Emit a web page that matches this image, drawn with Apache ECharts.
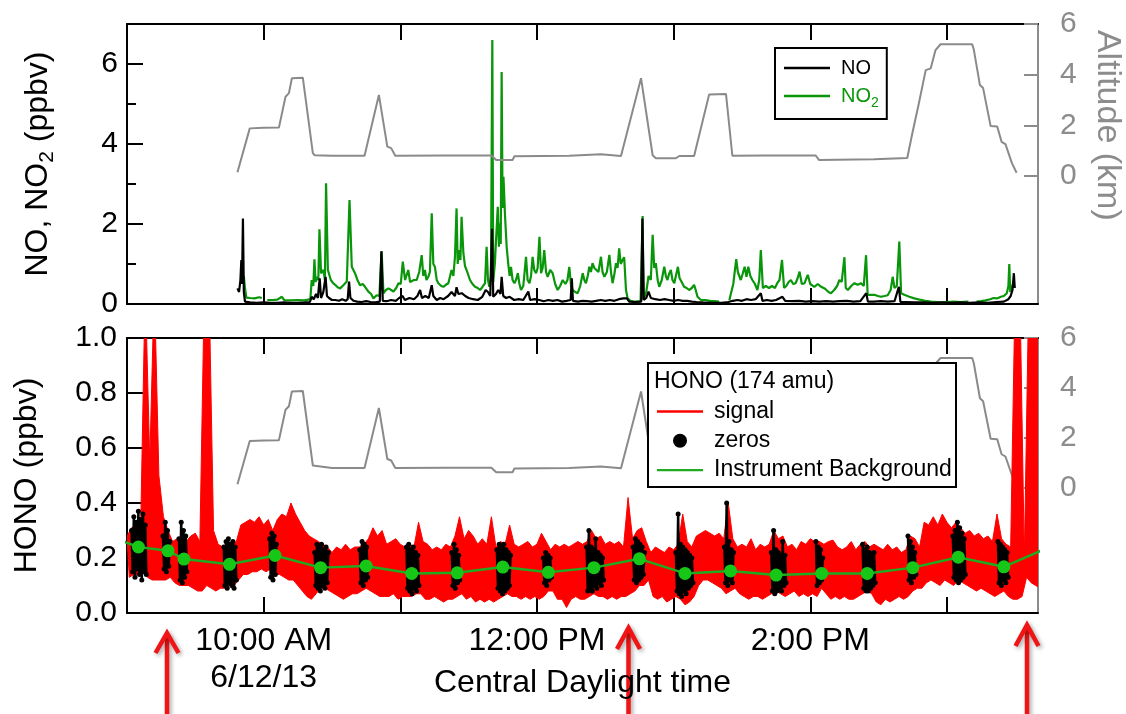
<!DOCTYPE html>
<html><head><meta charset="utf-8">
<script src="https://cdn.jsdelivr.net/npm/echarts@6.0.0/dist/echarts.min.js"></script>
<style>html,body{margin:0;padding:0;background:#fff}#c{width:1126px;height:714px}</style>
</head><body><div id="c"></div>
<script>
// ---------- data (time in minutes after midnight, CDT, 6/12/13) ----------
const X_MIN = 540, X_MAX = 940;
const hourTicks = [540, 600, 660, 720, 780, 840, 900];
const labelTimes = [600, 720, 840];
const labelTexts = ['10:00 AM\n6/12/13', '12:00 PM', '2:00 PM'];
const altTicks = [0, 2, 4, 6];

// NO2 (ppbv) [time, value]; null = gap
const no2 = [[591.3,0.70],[591.8,0.40],[592.4,0.16],[594,0.15],[596,0.14],[598,0.17],[599.2,0.15],[599.6,null],
[601.6,0.10],[604,0.10],[606,0.11],[608,0.18],[609,0.10],[612,0.09],[615,0.10],[618,0.09],[620.5,0.12],
[621.1,0.60],[621.8,0.45],[622.3,1.12],[622.8,0.55],[623.3,0.68],[624.0,0.60],[624.5,1.87],[625.2,0.77],[626.3,0.85],[626.9,0.60],[627.4,3.02],[628.2,0.85],[629.5,0.60],[630.5,0.52],[631.4,0.48],[632.5,0.42],[633.6,0.39],[635,0.47],[636.5,0.56],[637.7,2.60],[638.7,0.93],[640.1,0.77],[641.2,0.60],[642.3,0.47],[643.5,0.50],[644.5,0.43],[646,0.31],[647.2,0.25],[648.2,0.14],[649.6,0.22],[650.8,0.20],[651.8,1.32],[652.6,0.27],[653.7,0.35],[654.8,0.39],[656,0.35],[657,0.31],[658.2,0.40],[659.2,0.52],[660.2,0.50],[661.1,1.06],[662.1,0.60],[663.5,0.85],[664.3,0.55],[665,0.52],[666,0.60],[667.2,0.60],[668.3,0.80],[669.4,1.22],[670.1,0.70],[670.8,0.85],[671.5,0.60],[672.3,0.68],[673.0,0.80],[673.8,2.27],[674.5,1.00],[675.2,0.93],[676,0.60],[676.7,0.52],[678,0.45],[678.9,0.43],[680,0.48],[681.1,0.52],[682.5,0.85],[683.3,0.70],[684,1.18],[684.7,2.39],[685.2,1.00],[685.8,1.35],[686.4,1.10],[686.9,2.18],[687.7,1.27],[688.4,0.95],[689.1,0.85],[690.6,0.60],[691.7,0.50],[692.8,0.43],[694,0.40],[695,0.35],[696,0.42],[697.2,0.52],[697.9,1.43],[698.5,0.60],[699.1,0.43],[699.8,0.68],[700.4,6.60],[700.8,0.55],[701.5,1.00],[702.3,1.02],[702.8,2.43],[703.3,1.43],[703.7,2.02],[704.1,1.50],[704.5,5.80],[704.9,2.40],[705.3,3.18],[706.0,2.18],[706.7,1.43],[707.4,1.00],[708.0,0.70],
[708.6,0.93],[709.3,0.60],[710.1,0.52],[710.8,0.60],[711.6,0.77],[712.3,0.50],[713,0.35],[714,0.45],[715.2,1.18],[715.9,0.60],[716.7,0.52],[717.4,0.70],[718.1,1.18],[718.8,0.85],[719.6,0.77],[720.3,0.90],[721.1,1.68],[721.8,0.77],[722.5,0.90],[723.2,1.35],[724,0.80],[724.7,0.68],[725.8,0.85],[726.9,0.77],[728,0.50],[729.1,0.35],[730.2,0.45],[731.3,0.60],[732.5,0.50],[733.4,0.60],[734.2,0.93],[735,0.45],[735.7,0.35],[736.8,0.30],[737.9,0.27],[739,0.45],[740.1,0.77],[740.8,0.60],[741.5,0.52],[742.3,0.70],[743,0.93],[743.7,0.80],[744.4,1.02],[745.2,0.90],[745.9,0.85],[747,0.80],[748.1,1.18],[748.8,0.80],[749.6,0.68],[750.7,0.80],[751.8,1.23],[752.5,0.80],[753.2,0.52],[754,0.75],[754.7,1.02],[755.4,0.90],[756.1,1.39],[756.8,1.00],[757.6,1.10],[758.3,1.17],[759.1,0.35],[759.8,0.14],[761,0.08],[762.5,0.06],[764,0.06],[765.5,0.07],[766.0,0.10],[766.4,2.20],[766.8,0.12],[768,0.30],[769,0.70],[770,0.60],[770.8,1.73],
[771.5,0.90],[772.2,1.02],[773,0.60],[773.7,0.43],[774.8,0.60],[775.9,0.93],[776.6,0.70],[777.3,0.60],[778,0.75],[778.8,0.85],[779.5,0.60],[780.3,0.52],[781,0.70],[781.9,0.93],[782.6,0.65],[783.2,0.60],[784,0.50],[784.6,0.43],[785.7,0.40],[786.8,0.35],[788,0.40],[789,0.48],[789.7,0.35],[790.5,0.18],[792,0.10],[794,0.10],[796,0.08],[798,0.07],[800,0.06],[800.8,null],
[804.5,0.10],[805.2,0.27],[806.2,0.50],[807.5,1.12],[808.2,0.80],[809.5,0.60],[810.3,0.75],[811.2,0.93],[812,0.68],[812.8,0.93],[813.7,0.70],[814.6,0.60],[815.7,0.50],[816.8,0.35],[817.6,0.60],[818.3,1.35],[819.2,0.40],[820.5,0.45],[821.9,0.40],[823.2,0.45],[824.5,0.40],[825.5,0.52],[826.5,0.60],[827.6,1.10],[828.5,0.40],[829.5,0.45],[830.5,0.55],[831.5,0.60],[832.5,0.50],[833.6,0.52],[834.5,0.65],[835.3,0.81],[836.3,0.50],[837.5,0.52],[838.9,0.73],[840,0.50],[841.8,0.43],[843.3,0.50],[844.8,0.43],[846.5,0.38],[848,0.30],[849.1,0.27],[850.5,0.35],[851.8,0.45],[852.8,0.60],[853.8,0.55],[855,1.17],[855.6,0.40],[856.5,0.35],[858,0.45],[859.4,0.52],[860.8,0.48],[862.3,0.52],[863.5,0.45],[864.5,1.22],[865.2,0.23],[866.7,0.23],[868.2,0.23],[869.7,0.20],[871.1,0.18],[872.6,0.20],[874,0.22],[875.3,0.35],[876.2,0.68],[877,0.40],[878,0.45],[879.1,1.56],[879.9,0.27],[881.3,0.23],[883.5,0.18],[885.7,0.14],[888,0.11],[890.5,0.08],[893,0.06],[895.5,0.05],[897.4,0.04],[900,0.05],[903,0.06],[906,0.05],[909.4,0.06],[909.8,null],[913,0.06],[915,0.07],[917,0.09],[919,0.12],[920.5,0.15],[922,0.14],[923.7,0.18],[925,0.20],[926.3,0.27],[927,0.45],[927.4,1.00],[927.8,0.30],[928.5,0.40],[929,0.50]];

// NO (ppbv) [time, value]
const no = [[588.5,0.39],[589.2,0.30],[589.8,0.60],[590.2,1.10],[590.5,0.50],[590.9,2.14],[591.3,0.30],[591.8,0.06],[594,0.04],[597,0.03],[600,0.04],[603,0.03],[606,0.03],[609,0.04],[612,0.03],[615,0.03],[618,0.04],[620.3,0.05],[621.1,0.18],[622,0.12],[623,0.25],[623.8,0.15],[624.6,0.64],[625.2,0.15],[626.2,0.30],[627.2,0.68],[627.8,0.20],[628.7,0.15],[630,0.10],[631.5,0.10],[633,0.08],[634.5,0.12],[636,0.08],[636.9,0.12],[637.5,0.56],[638.1,0.15],[639.5,0.08],[641,0.06],[643,0.05],[645,0.07],[647,0.05],[649,0.04],[651,0.06],[651.7,1.32],[652.3,0.08],[654,0.07],[656,0.10],[658,0.08],[659.5,0.15],[661,0.20],[662,0.10],[664,0.15],[666,0.12],[667.5,0.20],[668.7,0.35],[669.5,0.15],[671,0.20],[672.5,0.15],[673.8,0.47],[674.5,0.20],[676,0.10],[677.5,0.15],[679,0.12],[681,0.20],[682.5,0.30],[684,0.20],[684.7,0.42],[685.5,0.25],[687,0.27],[688.5,0.20],[690,0.15],[692,0.12],[694,0.10],[696,0.18],[697.5,0.35],[698.5,0.30],[699.5,0.20],[700.3,1.88],[700.8,0.18],[702,0.25],[703,0.35],[704,0.25],[704.5,0.68],[705.2,0.20],[706.5,0.15],[708,0.18],[710,0.10],[712,0.12],[714,0.10],[716.2,0.31],[717,0.10],[719,0.12],[721,0.10],[723,0.07],[725,0.10],[727,0.08],[729,0.10],[731,0.06],[733,0.08],[734.8,0.10],[735.3,0.64],[735.8,0.08],[738,0.06],[740,0.08],[742,0.07],[744,0.06],[746,0.08],[748,0.10],[750,0.08],[752,0.10],[754,0.08],[756,0.12],[758,0.14],[759.5,0.14],[760.5,0.06],[763,0.05],[765.8,0.06],[766.3,2.14],[766.9,0.10],[768,0.15],[769,0.31],[770,0.15],[772,0.12],[774,0.10],[776,0.12],[778,0.10],[780,0.08],[782,0.10],[784,0.08],[786,0.08],[788,0.06],[790,0.05],[793,0.04],[797,0.03],[801,0.03],[804,0.05],[806,0.08],[808,0.10],[810,0.08],[812,0.12],[814,0.10],[816,0.12],[818.3,0.27],[819,0.08],[821,0.10],[823,0.08],[825,0.10],[827.8,0.18],[829,0.08],[832,0.07],[835,0.08],[838,0.06],[841,0.07],[844,0.06],[847,0.07],[850,0.06],[853,0.07],[856,0.08],[859,0.06],[862,0.07],[864.6,0.27],[865.3,0.06],[868,0.06],[871,0.07],[874,0.06],[877,0.07],[878.9,0.43],[879.6,0.05],[882,0.05],[886,0.04],[890,0.04],[894,0.03],[898,0.04],[902,0.03],[906,0.04],[910,0.03],[914,0.04],[918,0.03],[922,0.05],[925,0.06],[927,0.12],[928,0.20],[928.8,0.35],[929.4,0.77],[929.8,0.40]];

// Altitude (km) [time, value]
const altitude = [[588.5,0.15],[593.9,1.88],[594.7,1.92],[600,1.90],[606.7,1.91],[609.6,3.13],[611.1,3.27],[612.4,3.86],[617.2,3.88],[621.6,0.90],[622.4,0.82],[630,0.80],[644.3,0.80],[650.6,3.20],[654.3,1.16],[656.0,1.10],[657.8,0.80],[680,0.81],[700.0,0.81],[702.1,0.63],[709.3,0.63],[710.1,0.78],[734.2,0.80],[735.0,0.87],[748.1,0.86],[748.7,0.79],[756.9,0.79],[765.7,3.86],[770.8,0.82],[772.2,0.70],[781.0,0.70],[782.5,0.79],[789.0,0.79],[795.6,3.22],[803.0,3.24],[805.8,0.80],[820,0.81],[842.4,0.81],[843.9,0.63],[868.0,0.66],[868.7,0.70],[882.6,0.71],[884.8,1.68],[887.7,2.87],[890.7,4.18],[892.9,4.25],[895.0,4.97],[897.2,5.20],[911.1,5.20],[911.8,5.00],[914.5,3.59],[915.9,3.47],[919.2,1.97],[922.1,1.95],[924.0,1.35],[925.7,1.26],[928.6,0.50],[930.6,0.13]];

// HONO signal: upper / lower envelope per 2-minute bin starting 540
const SIG_T0 = 540, SIG_STEP = 2;
const sigHi = [
0.28,0.31,0.32,0.31,1.2,0.55,1.2,0.50,0.35,0.30,
0.26,0.27,0.28,0.26,0.28,0.29,0.26,1.2,1.2,0.30,
0.25,0.24,0.25,0.25,0.26,0.32,0.33,0.34,0.33,0.35,
0.32,0.34,0.30,0.34,0.36,0.35,0.40,0.36,0.33,0.30,
0.28,0.27,0.26,0.25,0.24,0.22,0.24,0.23,0.25,0.23,
0.24,0.24,0.25,0.27,0.31,0.28,0.30,0.25,0.26,0.27,
0.25,0.24,0.25,0.24,0.33,0.26,0.25,0.23,0.24,0.23,
0.25,0.24,0.28,0.35,0.27,0.30,0.28,0.25,0.27,0.25,
0.35,0.24,0.26,0.25,0.32,0.25,0.24,0.25,0.26,0.24,
0.25,0.29,0.26,0.23,0.25,0.24,0.25,0.24,0.25,0.26,
0.25,0.26,0.30,0.27,0.28,0.25,0.26,0.25,0.26,0.24,
0.42,0.27,0.30,0.31,0.26,0.22,0.24,0.23,0.22,0.24,
0.23,0.25,0.36,0.26,0.24,0.28,0.29,0.30,0.29,0.28,
0.29,0.27,0.40,0.27,0.24,0.25,0.24,0.27,0.23,0.25,
0.24,0.25,0.30,0.27,0.28,0.24,0.25,0.23,0.26,0.25,
0.27,0.26,0.26,0.25,0.26,0.265,0.24,0.23,0.24,0.26,
0.23,0.25,0.26,0.24,0.25,0.24,0.23,0.25,0.23,0.24,
0.22,0.23,0.28,0.27,0.24,0.33,0.32,0.35,0.32,0.36,
0.33,0.31,0.33,0.31,0.29,0.30,0.28,0.29,0.27,0.28,
0.26,0.36,0.27,0.25,0.24,1.2,1.2,0.20,1.2,1.2,
1.2];
const sigLo = [
0.13,0.14,0.14,0.15,0.13,0.12,0.12,0.12,0.12,0.13,
0.11,0.10,0.10,0.10,0.09,0.08,0.08,0.10,0.09,0.08,
0.09,0.09,0.10,0.10,0.12,0.14,0.14,0.15,0.15,0.16,
0.15,0.16,0.14,0.14,0.13,0.12,0.12,0.10,0.08,0.06,
0.05,0.07,0.09,0.09,0.08,0.07,0.06,0.05,0.06,0.07,
0.07,0.08,0.09,0.08,0.07,0.06,0.06,0.06,0.07,0.05,
0.06,0.06,0.06,0.07,0.07,0.05,0.05,0.06,0.05,0.04,
0.05,0.05,0.06,0.07,0.05,0.06,0.04,0.05,0.04,0.05,
0.04,0.05,0.06,0.07,0.06,0.06,0.05,0.06,0.05,0.06,
0.05,0.06,0.08,0.08,0.05,0.05,0.02,0.05,0.06,0.05,
0.05,0.06,0.07,0.06,0.06,0.05,0.06,0.05,0.06,0.06,
0.07,0.08,0.10,0.10,0.12,0.06,0.05,0.06,0.04,0.05,
0.06,0.05,0.03,0.04,0.06,0.10,0.12,0.12,0.11,0.10,
0.09,0.07,0.08,0.09,0.07,0.06,0.05,0.06,0.06,0.05,
0.06,0.07,0.08,0.07,0.06,0.07,0.08,0.06,0.07,0.06,
0.07,0.06,0.09,0.07,0.05,0.06,0.05,0.06,0.05,0.05,
0.06,0.07,0.08,0.07,0.04,0.03,0.05,0.04,0.05,0.06,
0.05,0.06,0.08,0.09,0.09,0.11,0.12,0.11,0.10,0.12,
0.11,0.10,0.12,0.11,0.10,0.09,0.08,0.09,0.08,0.07,
0.06,0.07,0.08,0.06,0.05,0.05,0.06,0.13,0.11,0.10,
0.09];

// HONO zeros: clusters, samples every 0.5 min from each start
const ZSTEP = 0.5;
const zeroStart = [542.0,555.8,562.8,582.5,602.6,622.4,642.2,662.7,682.6,702.4,722.8,741.8,762.2,781.0,802.3,822.9,842.5,863.0,882.9,902.6,922.4];
const zeroVals = [
[0.30,0.15,0.35,0.13,0.33,0.16,0.37,0.14,0.34,0.12,0.36,0.15,0.32,0.14],
[0.28,0.16,0.33,0.15,0.30,0.17,0.26],
[0.27,0.12,0.33,0.11,0.30,0.13,0.28,0.15],
[0.24,0.10,0.26,0.09,0.27,0.11,0.25,0.10,0.26,0.09,0.24,0.12],
[0.27,0.13,0.29,0.12,0.28,0.14,0.25],
[0.22,0.10,0.25,0.09,0.24,0.08,0.25,0.10,0.23,0.09,0.24,0.11,0.22],
[0.23,0.11,0.26,0.10,0.25,0.12,0.24,0.13],
[0.24,0.09,0.25,0.08,0.23,0.07,0.24,0.09,0.22,0.08,0.21,0.10],
[0.22,0.10,0.25,0.09,0.23,0.11,0.21,0.12],
[0.23,0.09,0.25,0.08,0.24,0.07,0.25,0.08,0.23,0.09,0.22,0.10,0.21],
[0.20,0.11,0.22,0.10,0.21,0.12,0.20,0.13],
[0.24,0.08,0.30,0.09,0.24,0.08,0.23,0.10,0.27,0.09,0.22,0.11,0.21,0.10,0.20,0.12],
[0.24,0.12,0.27,0.11,0.26,0.12,0.25,0.13,0.24,0.14,0.22],
[0.22,0.08,0.36,0.07,0.25,0.06,0.24,0.08,0.23,0.07,0.22,0.09,0.21,0.10,0.20,0.11],
[0.24,0.11,0.40,0.10,0.26,0.12,0.23,0.11,0.22],
[0.22,0.08,0.30,0.07,0.23,0.08,0.22,0.09,0.21,0.08,0.26,0.10,0.21,0.11],
[0.26,0.10,0.24,0.11,0.23,0.12,0.20],
[0.25,0.09,0.23,0.08,0.24,0.08,0.22,0.09,0.21,0.10,0.22,0.11],
[0.28,0.12,0.26,0.11,0.24,0.13,0.22,0.14],
[0.28,0.13,0.30,0.12,0.33,0.11,0.31,0.12,0.29,0.13,0.27,0.14],
[0.26,0.11,0.25,0.10,0.24,0.12,0.23,0.11,0.22,0.13]];

// Instrument background (mean of each zero)
const bgTime = [525,545,558,565,585,605,625,645,665,685,705,725,745,765,785,805,825,845,865,885,905,925,945];
const bgVal  = [0.30,0.240,0.226,0.196,0.177,0.209,0.165,0.171,0.144,0.146,0.167,0.148,0.165,0.197,0.144,0.153,0.138,0.144,0.144,0.165,0.203,0.168,0.24];

// ---------- build series data ----------
const gap = p => [p[0], p[1] == null ? '-' : p[1]];
const zeroLine = [], zeroDots = [];
zeroStart.forEach((s, i) => {
  zeroVals[i].forEach((v, j) => { const p = [s + j * ZSTEP, v]; zeroLine.push(p); zeroDots.push(p); });
  zeroLine.push([s + zeroVals[i].length * ZSTEP, '-']);
});
const bgData = bgTime.map((t, i) => [t, bgVal[i]]);

// ---------- styles ----------
const FONT = '"Liberation Sans", Arial, Helvetica, sans-serif';
const GREY = '#8c8c8c';
const GREEN_NO2 = '#0a960a';
const RED = '#ff0000';
const BLACK = '#000';
const tickLabelSize = 30;
const LINE_ICON = 'path://M0,0H46V2.4H0Z';

function frameX(gi, pos, withLabels) {
  const ax = {
    type: 'value', gridIndex: gi, position: pos, min: X_MIN, max: X_MAX, interval: 60,
    axisLine: { show: true, onZero: false, lineStyle: { color: BLACK, width: 2 } },
    axisTick: { show: true, inside: true, length: 16, lineStyle: { color: BLACK, width: 2 }, customValues: hourTicks },
    axisLabel: { show: false }, splitLine: { show: false }
  };
  if (withLabels) {
    ax.axisLabel = {
      show: true, customValues: labelTimes, fontSize: 32, lineHeight: 37, fontFamily: FONT, color: BLACK, margin: 10,
      formatter: v => { const k = labelTimes.indexOf(v); return k >= 0 ? labelTexts[k] : ''; }
    };
    ax.name = 'Central Daylight time';
    ax.nameLocation = 'middle';
    ax.nameGap = 54;
    ax.nameMoveOverlap = false;
    ax.nameTextStyle = { fontSize: 32, fontFamily: FONT, color: BLACK };
  }
  return ax;
}
const hiddenX = gi => ({ type: 'value', gridIndex: gi, min: X_MIN, max: X_MAX, show: false });
const gridBox = (top, height) => ({ left: 127, top: top, width: 911, height: height, outerBoundsMode: 'none', containLabel: false });

const option = {
  animation: false,
  backgroundColor: '#fff',
  textStyle: { fontFamily: FONT },
  grid: [
    gridBox(24, 280),      // 0 NO / NO2
    gridBox(24, 202.67),   // 1 altitude (top)
    gridBox(338, 275),     // 2 HONO
    gridBox(338, 150),     // 3 altitude (bottom)
    gridBox(24, 280)       // 4 major ticks of NO axis
  ],
  xAxis: [
    frameX(0, 'bottom', false), frameX(0, 'top', false), hiddenX(1),
    frameX(2, 'bottom', true), frameX(2, 'top', false), hiddenX(3), hiddenX(4)
  ],
  yAxis: [
    { type: 'value', gridIndex: 0, position: 'left', min: 0, max: 7, interval: 1,
      axisLine: { show: true, onZero: false, lineStyle: { color: BLACK, width: 2 } },
      axisTick: { show: true, inside: true, length: 9, lineStyle: { color: BLACK, width: 2 } },
      axisLabel: { fontSize: tickLabelSize, fontFamily: FONT, color: BLACK, margin: 9,
        formatter: v => (v % 2 === 0 && v < 7) ? String(v) : '' },
      splitLine: { show: false },
      name: 'NO, NO{s|2} (ppbv)', nameLocation: 'middle', nameGap: 69, nameRotate: 90, nameMoveOverlap: false,
      nameTextStyle: { fontSize: 32, fontFamily: FONT, color: BLACK, lineHeight: 40,
        rich: { s: { fontSize: 21, lineHeight: 21, verticalAlign: 'bottom', fontFamily: FONT, color: BLACK } } } },
    { type: 'value', gridIndex: 0, position: 'right', min: 0, max: 7,
      axisLine: { show: true, onZero: false, lineStyle: { color: GREY, width: 2 } },
      axisTick: { show: false }, axisLabel: { show: false }, splitLine: { show: false } },
    { type: 'value', gridIndex: 1, position: 'right', min: -2, max: 6, interval: 2,
      axisLine: { show: false },
      axisTick: { show: true, inside: true, length: 14, lineStyle: { color: GREY, width: 2 }, customValues: altTicks },
      axisLabel: { fontSize: tickLabelSize, fontFamily: FONT, color: GREY, margin: 22, customValues: altTicks,
        formatter: v => v >= 0 ? String(v) : '' },
      splitLine: { show: false },
      name: 'Altitude (km)', nameLocation: 'middle', nameRotate: -90, nameGap: 52, nameMoveOverlap: false,
      nameTextStyle: { fontSize: 34, fontFamily: FONT, color: GREY } },
    { type: 'value', gridIndex: 2, position: 'left', min: 0, max: 1, interval: 0.2,
      axisLine: { show: true, onZero: false, lineStyle: { color: BLACK, width: 2 } },
      axisTick: { show: true, inside: true, length: 16, lineStyle: { color: BLACK, width: 2 } },
      axisLabel: { fontSize: tickLabelSize, fontFamily: FONT, color: BLACK, margin: 10, formatter: v => v.toFixed(1) },
      splitLine: { show: false },
      name: 'HONO (ppbv)', nameLocation: 'middle', nameGap: 84, nameRotate: 90, nameMoveOverlap: false,
      nameTextStyle: { fontSize: 32, fontFamily: FONT, color: BLACK } },
    { type: 'value', gridIndex: 2, position: 'right', min: 0, max: 1,
      axisLine: { show: true, onZero: false, lineStyle: { color: GREY, width: 2 } },
      axisTick: { show: false }, axisLabel: { show: false }, splitLine: { show: false } },
    { type: 'value', gridIndex: 3, position: 'right', min: 0, max: 6, interval: 2,
      axisLine: { show: false },
      axisTick: { show: true, inside: true, length: 14, lineStyle: { color: GREY, width: 2 } },
      axisLabel: { fontSize: tickLabelSize, fontFamily: FONT, color: GREY, margin: 22 },
      splitLine: { show: false } },
    { type: 'value', gridIndex: 4, position: 'left', min: 0, max: 7, interval: 2,
      axisLine: { show: false },
      axisTick: { show: true, inside: true, length: 16, lineStyle: { color: BLACK, width: 2 } },
      axisLabel: { show: false }, splitLine: { show: false } }
  ],
  legend: [
    { data: [{ name: 'NO', icon: LINE_ICON }, { name: 'NO2', icon: LINE_ICON }],
      orient: 'vertical', left: 775, top: 48, padding: [6, 8, 9, 9], symbolKeepAspect: true,
      itemWidth: 46, itemHeight: 14, itemGap: 0, selectedMode: false, z: 20,
      borderColor: BLACK, borderWidth: 2, backgroundColor: '#fff',
      formatter: n => n === 'NO2' ? '{g|NO}{gs|2}' : '{k|' + n + '}',
      textStyle: { fontSize: 20, lineHeight: 28, fontFamily: FONT, color: BLACK, padding: [0, 0, 0, 6],
        rich: {
          k: { fontSize: 20, lineHeight: 28, fontFamily: FONT, color: BLACK },
          g: { fontSize: 20, lineHeight: 28, fontFamily: FONT, color: GREEN_NO2 },
          gs: { fontSize: 14, lineHeight: 14, verticalAlign: 'bottom', fontFamily: FONT, color: GREEN_NO2 }
        } } },
    { data: [{ name: 'signal', icon: LINE_ICON }, { name: 'zeros', icon: 'circle' }, { name: 'Instrument Background', icon: LINE_ICON }],
      orient: 'vertical', left: 657, top: 400, padding: 0, symbolKeepAspect: true,
      itemWidth: 46, itemHeight: 14, itemGap: 6.3, selectedMode: false, z: 20,
      textStyle: { fontSize: 23, lineHeight: 22, fontFamily: FONT, color: BLACK, padding: [0, 0, 0, 6] } }
  ],
  graphic: [
    { type: 'rect', z: 10, shape: { x: 648, y: 363, width: 308, height: 124 },
      style: { fill: '#fff', stroke: BLACK, lineWidth: 2 } },
    { type: 'text', z: 11, x: 654, y: 382,
      style: { text: 'HONO (174 amu)', fontSize: 23, fontFamily: FONT, fill: BLACK, textVerticalAlign: 'middle' } },
    ...[[167, 633, 653], [628.5, 628, 649], [1027, 625, 646]].map(a => ({
      type: 'group', z: 30, children: [
        { type: 'line', shape: { x1: a[0], y1: a[1] + 3, x2: a[0], y2: 716 },
          style: { stroke: '#f01414', lineWidth: 4.5, shadowBlur: 4, shadowColor: 'rgba(0,0,0,0.35)', shadowOffsetX: 2, shadowOffsetY: 2 } },
        { type: 'polyline', shape: { points: [[a[0] - 11.5, a[2]], [a[0], a[1]], [a[0] + 11.5, a[2]]] },
          style: { stroke: '#f01414', fill: null, lineWidth: 4.5, lineJoin: 'miter', shadowBlur: 4, shadowColor: 'rgba(0,0,0,0.35)', shadowOffsetX: 2, shadowOffsetY: 2 } }
      ] }))
  ],
  series: [
    { name: 'NO2', type: 'line', xAxisIndex: 0, yAxisIndex: 0, data: no2.map(gap), symbol: 'none',
      lineStyle: { color: GREEN_NO2, width: 2.2 }, itemStyle: { color: GREEN_NO2 }, z: 2 },
    { name: 'NO', type: 'line', xAxisIndex: 0, yAxisIndex: 0, data: no, symbol: 'none',
      lineStyle: { color: BLACK, width: 2.2 }, itemStyle: { color: BLACK }, z: 3 },
    { name: 'alt-top', type: 'line', xAxisIndex: 2, yAxisIndex: 2, data: altitude, symbol: 'none',
      lineStyle: { color: '#8a8a8a', width: 2 }, z: 2 },
    { name: 'alt-bottom', type: 'line', xAxisIndex: 5, yAxisIndex: 5, data: altitude, symbol: 'none',
      lineStyle: { color: '#8a8a8a', width: 2 }, z: 1 },
    { name: 'signal', type: 'custom', xAxisIndex: 3, yAxisIndex: 3, clip: true, z: 2,
      itemStyle: { color: RED }, data: [[SIG_T0, 0]],
      renderItem: (params, api) => {
        const pts = [];
        sigHi.forEach((h, i) => pts.push(api.coord([SIG_T0 + i * SIG_STEP, h])));
        for (let i = sigLo.length - 1; i >= 0; i--) pts.push(api.coord([SIG_T0 + i * SIG_STEP + SIG_STEP / 2, sigLo[i]]));
        const cs = params.coordSys;
        return { type: 'polygon', shape: { points: pts },
          clipPath: { type: 'rect', shape: { x: cs.x, y: cs.y, width: cs.width, height: cs.height } },
          style: { fill: RED, stroke: RED, lineWidth: 1 } };
      } },
    { name: 'zeros-band', type: 'line', xAxisIndex: 3, yAxisIndex: 3, data: zeroLine, symbol: 'none',
      lineStyle: { color: BLACK, width: 2.5 }, z: 3 },
    { name: 'zeros', type: 'scatter', xAxisIndex: 3, yAxisIndex: 3, data: zeroDots, symbol: 'circle', symbolSize: 5,
      itemStyle: { color: BLACK, opacity: 1 }, z: 3 },
    { name: 'Instrument Background', type: 'line', xAxisIndex: 3, yAxisIndex: 3, data: bgData, symbol: 'none',
      lineStyle: { color: '#1faa1f', width: 2.5 }, itemStyle: { color: '#1faa1f' }, z: 4 },
    { name: 'bg-dots', type: 'scatter', xAxisIndex: 3, yAxisIndex: 3, data: bgData, symbol: 'circle', symbolSize: 13,
      itemStyle: { color: '#17c717', opacity: 1 }, z: 5 }
  ]
};
const chart = echarts.init(document.getElementById('c'), null, { renderer: 'canvas' });
chart.setOption(option);
</script></body></html>
